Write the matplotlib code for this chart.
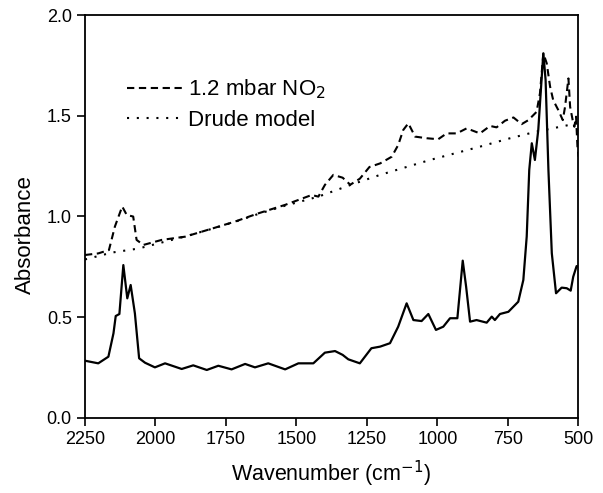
import matplotlib
matplotlib.use("Agg")
import matplotlib.pyplot as plt

plt.rcParams['font.family'] = ['Liberation Sans', 'DejaVu Sans']

# Solid spectrum (unlabelled)
wn_solid = [2250, 2203, 2167, 2149, 2141, 2128, 2114, 2100, 2088, 2073, 2058, 2037, 2002,
            1966, 1907, 1866, 1818, 1777, 1730, 1682, 1647, 1600, 1540, 1493, 1440, 1399,
            1363, 1336, 1316, 1275, 1234, 1203, 1168, 1139, 1109, 1085, 1056, 1032, 1005,
            979, 955, 929, 910, 898, 884, 861, 825, 807, 796, 778, 748, 713, 695, 683,
            674, 665, 654, 642, 632, 624, 616, 606, 594, 579, 559, 541, 527, 518, 506, 500]
abs_solid = [0.283, 0.270, 0.303, 0.419, 0.505, 0.515, 0.758, 0.593, 0.659, 0.518, 0.295, 0.273, 0.250,
             0.270, 0.242, 0.260, 0.237, 0.258, 0.240, 0.267, 0.250, 0.270, 0.240, 0.270, 0.270, 0.323,
             0.331, 0.312, 0.29, 0.27, 0.345, 0.353, 0.370, 0.452, 0.568, 0.485, 0.480, 0.515, 0.436,
             0.452, 0.494, 0.494, 0.780, 0.651, 0.477, 0.485, 0.472, 0.502, 0.485, 0.515, 0.526, 0.576, 0.684, 0.900,
             1.231, 1.363, 1.280, 1.429, 1.644, 1.81, 1.677, 1.231, 0.817, 0.618, 0.646, 0.643, 0.631, 0.700, 0.753, 0.75]

# 1.2 mbar NO2 (dashed)
wn_no2 = [2250, 2203, 2165, 2144, 2118, 2102, 2079, 2067, 2043, 1978, 1895, 1795, 1718, 1635,
          1540, 1446, 1422, 1399, 1369, 1336, 1309, 1275, 1241, 1203, 1162, 1139, 1121, 1103,
          1079, 1038, 997, 967, 931, 896, 849, 813, 790, 760, 730, 701, 677, 648, 636, 624,
          612, 600, 589, 571, 555, 547, 535, 529, 520, 514, 508, 503, 499]
abs_no2 = [0.808, 0.816, 0.833, 0.949, 1.049, 1.007, 0.999, 0.883, 0.858, 0.883, 0.899, 0.941, 0.974, 1.015,
           1.057, 1.106, 1.098, 1.156, 1.206, 1.192, 1.157, 1.187, 1.245, 1.263, 1.296, 1.354, 1.429, 1.462,
           1.396, 1.388, 1.383, 1.412, 1.412, 1.437, 1.412, 1.449, 1.442, 1.475, 1.491, 1.458, 1.478, 1.519, 1.611, 1.81,
           1.76, 1.644, 1.577, 1.528, 1.478, 1.544, 1.685, 1.544, 1.478, 1.445, 1.495, 1.346, 1.296]

# Drude model (dotted)
wn_drude = [2250, 2155, 2061, 1978, 1895, 1795, 1718, 1635, 1540, 1422, 1300, 1203, 1026, 849, 750, 648, 518, 500]
abs_drude = [0.786, 0.82, 0.84, 0.87, 0.90, 0.94, 0.973, 1.012, 1.053, 1.098, 1.16, 1.206, 1.28, 1.346,
             1.385, 1.421, 1.458, 1.462]

xticks = [2250, 2000, 1750, 1500, 1250, 1000, 750, 500]
yticks = [0.0, 0.5, 1.0, 1.5, 2.0]

fig = plt.figure(figsize=(6.03, 4.93), dpi=100)
ax = fig.add_axes([85/603, 1 - 417.7/493, (578.3 - 85)/603, (417.7 - 15)/493])

ax.plot(wn_solid, abs_solid, color='black', lw=1.6)
ax.plot(wn_no2, abs_no2, color='black', lw=1.5, ls=(0, (3.5, 2.2)), label='1.2 mbar NO$_2$')
ax.plot(wn_drude, abs_drude, color='black', lw=1.5, ls=(0, (1, 3.7)), label='Drude model')

ax.set_xlim(2250, 500)
ax.set_ylim(0, 2.0)
ax.set_xticks(xticks)
ax.set_xticklabels([str(t) for t in xticks])
ax.set_yticks(yticks)
ax.set_yticklabels([f"{t:.1f}" for t in yticks])
ax.tick_params(direction='out', length=6, width=1.2, labelsize=13, top=False, right=False)
for s in ax.spines.values():
    s.set_linewidth(1.3)

ax.set_xlabel('Wavenumber (cm$^{-1}$)', fontsize=15.5, labelpad=8)
ax.set_ylabel('Absorbance', fontsize=16)
ax.yaxis.set_label_coords(-0.099, 0.454)

leg = ax.legend(loc='upper left', bbox_to_anchor=(0.085, 0.845), frameon=False, fontsize=16,
                handlelength=2.6, handletextpad=0.15, labelspacing=0.4, borderpad=0, borderaxespad=0)

fig.savefig('out.png', dpi=100)
